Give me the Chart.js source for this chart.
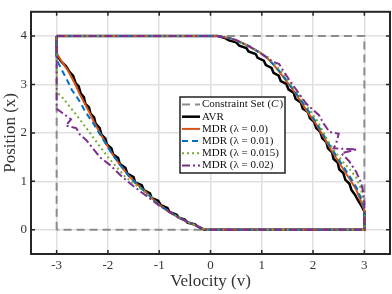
<!DOCTYPE html>
<html>
<head>
<meta charset="utf-8">
<script src="https://cdn.jsdelivr.net/npm/chart.js@4"></script>
<style>
  body { margin: 0; background: #fff; }
  canvas { display: block; }
</style>
</head>
<body>
<canvas id="chart" width="392" height="294"></canvas>
<script>
const xTicks = [-3, -2, -1, 0, 1, 2, 3];
const yTicks = [0, 1, 2, 3, 4];

const seriesLabels = ["Constraint Set (C)", "AVR", "MDR (λ = 0.0)", "MDR (λ = 0.01)", "MDR (λ = 0.015)", "MDR (λ = 0.02)"];

// [velocity, position]
const constraintSet = [[-3, 0], [-3, 4], [3, 4], [3, 0], [-3, 0]];

const avrPath = [
  [-3, 4], [0.14, 4], [0.28, 3.96], [0.36, 3.91], [0.5, 3.87], [0.56, 3.8], [0.7, 3.75], [0.74, 3.68],
  [0.88, 3.63], [0.92, 3.55], [1.04, 3.49], [1.08, 3.4], [1.19, 3.34], [1.23, 3.24], [1.33, 3.18],
  [1.37, 3.07], [1.48, 3.01], [1.52, 2.9], [1.62, 2.83], [1.66, 2.7], [1.76, 2.63], [1.8, 2.5],
  [1.9, 2.43], [1.94, 2.3], [2.02, 2.23], [2.06, 2.1], [2.14, 2.02], [2.18, 1.89], [2.26, 1.81],
  [2.29, 1.68], [2.37, 1.6], [2.4, 1.46], [2.48, 1.39], [2.51, 1.25], [2.59, 1.17], [2.63, 1.03],
  [2.71, 0.95], [2.75, 0.82], [2.82, 0.72], [2.88, 0.6], [2.94, 0.5], [2.98, 0.42], [3, 0.38], [3, 0],
  [-0.12, 0], [-0.25, 0.07], [-0.3, 0.11], [-0.45, 0.15], [-0.5, 0.21], [-0.62, 0.25], [-0.66, 0.31],
  [-0.8, 0.37], [-0.84, 0.45], [-0.97, 0.51], [-1.02, 0.6], [-1.15, 0.66], [-1.18, 0.75], [-1.3, 0.82],
  [-1.34, 0.92], [-1.47, 0.98], [-1.5, 1.09], [-1.62, 1.16], [-1.66, 1.28], [-1.77, 1.36], [-1.8, 1.48],
  [-1.9, 1.56], [-1.93, 1.68], [-2.02, 1.76], [-2.05, 1.88], [-2.13, 1.97], [-2.16, 2.1], [-2.24, 2.19],
  [-2.27, 2.32], [-2.34, 2.4], [-2.37, 2.53], [-2.44, 2.6], [-2.47, 2.74], [-2.53, 2.81], [-2.57, 2.96],
  [-2.63, 3.03], [-2.68, 3.18], [-2.75, 3.26], [-2.82, 3.38], [-2.9, 3.46], [-2.97, 3.56], [-3, 3.6], [-3, 4]
];

const mdr00Path = [
  [-3, 4], [0.14, 4], [0.4, 3.95], [0.6, 3.87], [0.76, 3.78], [0.95, 3.67], [1.1, 3.55], [1.22, 3.42],
  [1.35, 3.25], [1.48, 3.07], [1.6, 2.9], [1.73, 2.7], [1.88, 2.45], [2.05, 2.2], [2.2, 1.93],
  [2.35, 1.65], [2.5, 1.4], [2.65, 1.15], [2.76, 0.97], [2.84, 0.83], [2.94, 0.57], [3, 0.4], [3, 0],
  [-0.1, 0], [-0.27, 0.08], [-0.45, 0.16], [-0.6, 0.24], [-0.8, 0.36], [-0.99, 0.51], [-1.12, 0.63],
  [-1.25, 0.77], [-1.42, 0.93], [-1.58, 1.1], [-1.75, 1.32], [-1.91, 1.56], [-2.05, 1.8], [-2.16, 2.01],
  [-2.26, 2.2], [-2.35, 2.4], [-2.45, 2.6], [-2.55, 2.8], [-2.65, 3.03], [-2.78, 3.29], [-2.9, 3.47],
  [-3, 3.65], [-3, 4]
];

const mdr001Path = [
  [-3, 4], [0.14, 4], [0.4, 3.95], [0.76, 3.79], [1.1, 3.56], [1.35, 3.27], [1.6, 2.92], [1.75, 2.7],
  [2.06, 2.22], [2.36, 1.68], [2.52, 1.42], [2.68, 1.16], [2.86, 0.85], [2.96, 0.58], [3, 0.42], [3, 0],
  [-0.1, 0], [-0.27, 0.08], [-0.6, 0.24], [-0.99, 0.5], [-1.25, 0.76], [-1.58, 1.09], [-1.91, 1.55],
  [-2.16, 1.98], [-2.3, 2.22], [-2.43, 2.42], [-2.58, 2.7], [-2.7, 2.88], [-2.8, 3.1], [-2.9, 3.3],
  [-2.97, 3.45], [-3, 3.55], [-3, 4]
];

const mdr0015Path = [
  [-3, 4], [0.14, 4], [0.4, 3.95], [0.76, 3.79], [1.12, 3.56], [1.38, 3.27], [1.63, 2.93], [1.8, 2.68],
  [2.1, 2.22], [2.28, 1.85], [2.42, 1.62], [2.57, 1.42], [2.72, 1.24], [2.84, 1.08], [2.94, 0.83],
  [2.97, 0.57], [3, 0.45], [3, 0],
  [-0.1, 0], [-0.27, 0.08], [-0.6, 0.24], [-1, 0.51], [-1.28, 0.78], [-1.67, 1.1], [-2, 1.5],
  [-2.2, 1.78], [-2.35, 2], [-2.6, 2.35], [-2.88, 2.72], [-3, 2.85], [-3, 4]
];

const mdr002Path = [
  [-3, 4], [0.14, 4], [0.5, 3.92], [0.9, 3.7], [1.2, 3.48], [1.34, 3.42], [1.42, 3.28], [1.54, 3.09],
  [1.7, 2.85], [1.87, 2.6], [2.12, 2.36], [2.2, 2.2], [2.32, 2.02], [2.5, 1.98], [2.45, 1.78],
  [2.4, 1.68], [2.85, 1.66], [2.55, 1.58], [2.7, 1.42], [2.84, 1.2], [2.94, 0.96], [2.98, 0.76],
  [3, 0.55], [3, 0],
  [-0.1, 0], [-0.27, 0.08], [-0.6, 0.24], [-1, 0.5], [-1.2, 0.66], [-1.34, 0.77], [-1.5, 0.9],
  [-1.73, 1.1], [-1.95, 1.33], [-2.16, 1.5], [-2.22, 1.58], [-2.42, 1.85], [-2.55, 1.97], [-2.62, 2.1],
  [-2.82, 2.15], [-2.72, 2.28], [-2.9, 2.42], [-3, 2.5], [-3, 4]
];

const paths = [constraintSet, avrPath, mdr00Path, mdr001Path, mdr0015Path, mdr002Path];
const colors = ["#8c8c8c", "#000000", "#D95319", "#0072BD", "#77AC30", "#7E2F8E"];
const dashes = [[8, 5], [], [], [6, 4], [2, 3], [8, 3, 2, 3]];
const widths = [2, 2.5, 2, 2, 2, 2];

const serif = "'Liberation Serif', 'DejaVu Serif', serif";

const datasets = paths.map((p, i) => ({
  label: seriesLabels[i],
  data: p.map(([v, x]) => ({ x: v, y: x })),
  showLine: true,
  borderColor: colors[i],
  borderWidth: widths[i],
  borderDash: dashes[i],
  pointRadius: 0,
  tension: 0,
  fill: false,
  order: paths.length - i
}));

const framePlugin = {
  id: "frame",
  afterDraw(chart) {
    const { ctx, chartArea: a, scales } = chart;
    ctx.save();
    ctx.strokeStyle = "#262626";
    ctx.lineWidth = 1.5;
    ctx.beginPath();
    xTicks.forEach((v) => {
      const px = scales.x.getPixelForValue(v);
      ctx.moveTo(px, a.bottom); ctx.lineTo(px, a.bottom - 4);
      ctx.moveTo(px, a.top); ctx.lineTo(px, a.top + 4);
    });
    yTicks.forEach((v) => {
      const py = scales.y.getPixelForValue(v);
      ctx.moveTo(a.left, py); ctx.lineTo(a.left + 4, py);
      ctx.moveTo(a.right, py); ctx.lineTo(a.right - 4, py);
    });
    ctx.stroke();
    ctx.lineWidth = 2;
    ctx.strokeRect(a.left, a.top, a.right - a.left, a.bottom - a.top);

    // legend
    const bx = 180, by = 97, bw = 105, bh = 76;
    ctx.fillStyle = "#fff";
    ctx.fillRect(bx, by, bw, bh);
    ctx.lineWidth = 1.5;
    ctx.strokeStyle = "#222";
    ctx.strokeRect(bx, by, bw, bh);
    ctx.font = "11px " + serif;
    ctx.textBaseline = "middle";
    seriesLabels.forEach((label, i) => {
      const ry = by + 7.5 + i * 12.2;
      ctx.strokeStyle = colors[i];
      ctx.lineWidth = widths[i];
      ctx.setLineDash(dashes[i]);
      ctx.beginPath();
      ctx.moveTo(bx + 2, ry); ctx.lineTo(bx + 20, ry);
      ctx.stroke();
      ctx.setLineDash([]);
      ctx.fillStyle = "#111";
      if (i === 0) {
        const head = "Constraint Set (";
        ctx.font = "11px " + serif;
        ctx.fillText(head, bx + 22, ry);
        let w = ctx.measureText(head).width;
        ctx.font = "italic 11px " + serif;
        ctx.fillText("C", bx + 22 + w, ry);
        w += ctx.measureText("C").width + 1;
        ctx.font = "11px " + serif;
        ctx.fillText(")", bx + 22 + w, ry);
      } else {
        ctx.fillText(label, bx + 22, ry);
      }
    });
    ctx.restore();
  }
};

new Chart(document.getElementById("chart"), {
  type: "scatter",
  data: { datasets },
  options: {
    responsive: false,
    animation: false,
    layout: { padding: { left: 0, right: 2, top: 1, bottom: 0 } },
    plugins: { legend: { display: false }, tooltip: { enabled: false } },
    scales: {
      x: {
        type: "linear",
        min: -3.5,
        max: 3.5,
        afterBuildTicks: (s) => { s.ticks = xTicks.map((v) => ({ value: v })); },
        afterFit: (s) => { s.height = 40; },
        grid: { color: "#e0e0e0", lineWidth: 1.5, drawTicks: false },
        border: { display: false },
        ticks: { padding: 4, color: "#333", maxRotation: 0, font: { family: serif, size: 13 }, callback: (v) => String(v) },
        title: { display: true, text: "Velocity (v)", color: "#333", font: { family: serif, size: 17 }, padding: { top: 0, bottom: 2 } }
      },
      y: {
        type: "linear",
        min: -0.5,
        max: 4.5,
        afterBuildTicks: (s) => { s.ticks = yTicks.map((v) => ({ value: v })); },
        afterFit: (s) => { s.width = 31; },
        grid: { color: "#e0e0e0", lineWidth: 1.5, drawTicks: false },
        border: { display: false },
        ticks: { padding: 4, color: "#333", font: { family: serif, size: 13 }, callback: (v) => String(v) },
        title: { display: true, text: "Position (x)", color: "#333", font: { family: serif, size: 17 }, padding: { top: 0, bottom: 0 } }
      }
    }
  },
  plugins: [framePlugin]
});
</script>
</body>
</html>
